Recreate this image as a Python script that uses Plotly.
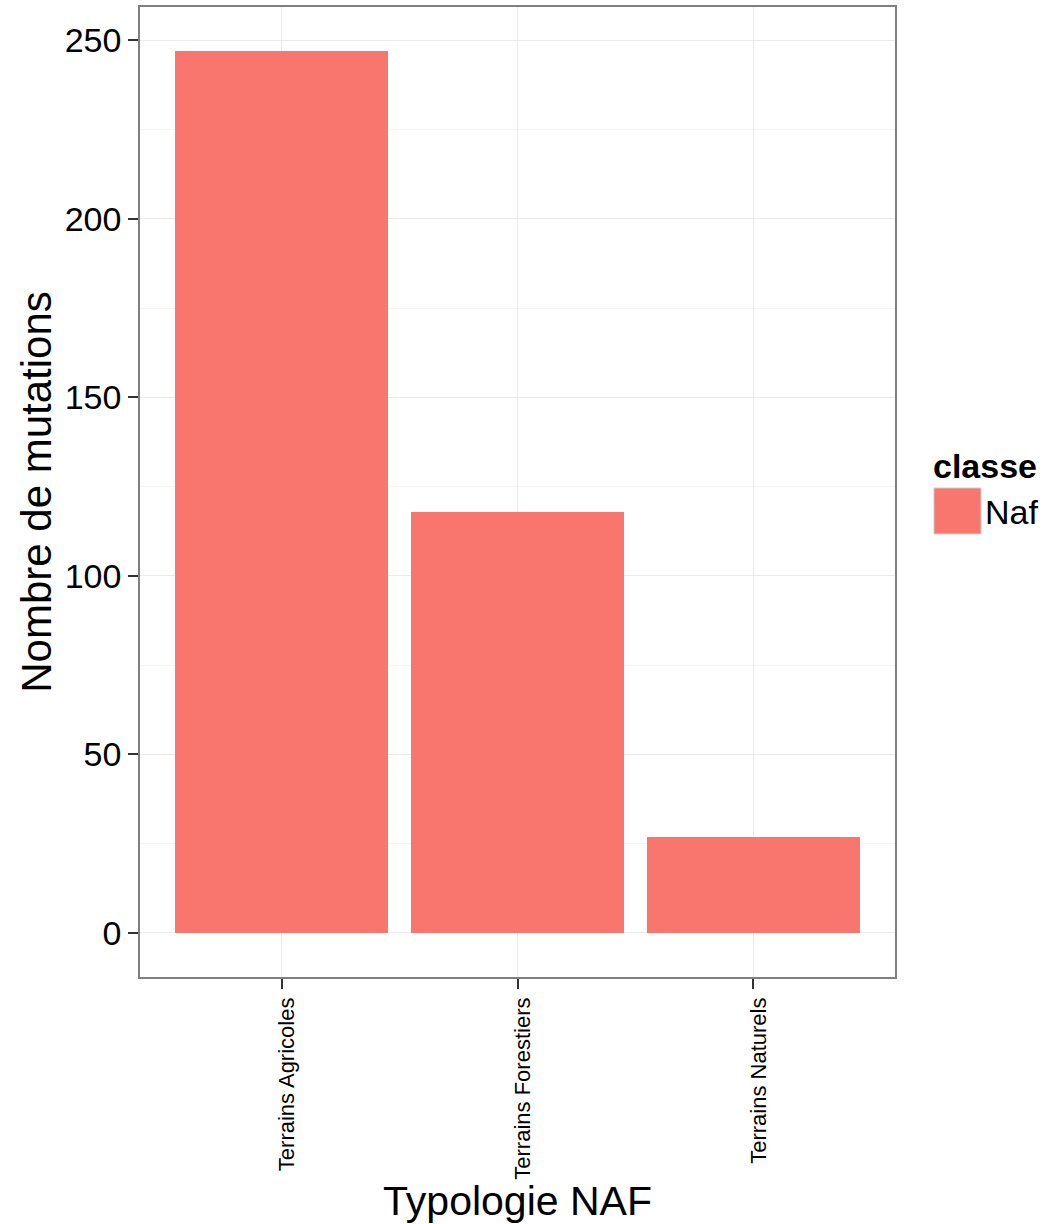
import plotly.graph_objects as go

categories = ["Terrains Agricoles", "Terrains Forestiers", "Terrains Naturels"]
values = [247, 118, 27]
series_name = "Naf"
legend_title = "classe"
y_ticks = [0, 50, 100, 150, 200, 250]
y_minor = [25, 75, 125, 175, 225]

bar_color = "#F8766D"
W, H = 1062, 1224
L, R, T, B = 140, 167, 5, 247

fig = go.Figure()
fig.add_trace(go.Bar(x=list(range(len(categories))), y=values, name=series_name,
                     marker=dict(color=bar_color, line=dict(width=0)),
                     width=0.9, showlegend=False))

vmax = max(values)
pad = 0.05 * vmax
grid_major = "#EBEBEB"
grid_minor = "#F5F5F5"

fig.update_layout(
    width=W, height=H,
    margin=dict(l=L, r=R, t=T, b=B),
    paper_bgcolor="white", plot_bgcolor="white",
    font=dict(family="Liberation Sans, Arial, sans-serif", color="black"),
    bargap=0,
    xaxis=dict(
        range=[-0.6, len(categories) - 0.4],
        tickmode="array", tickvals=list(range(len(categories))), ticktext=categories,
        tickangle=-90, tickfont=dict(size=22, color="black"), ticklabelshift=5,
        ticks="outside", ticklen=10, tickwidth=2, tickcolor="#333333",
        showgrid=True, gridcolor=grid_major, gridwidth=1,
        showline=True, linecolor="#7F7F7F", linewidth=1.5, mirror=True,
        zeroline=False,
        title=dict(text="Typologie NAF", font=dict(size=41, color="black"), standoff=4),
    ),
    yaxis=dict(
        range=[-pad, vmax + pad],
        tickmode="array", tickvals=y_ticks,
        tickfont=dict(size=34, color="black"),
        ticks="outside", ticklen=10, tickwidth=2, tickcolor="#333333",
        showgrid=True, gridcolor=grid_major, gridwidth=1,
        minor=dict(tickmode="array", tickvals=y_minor,
                   showgrid=True, gridcolor=grid_minor, gridwidth=1, ticks=""),
        showline=True, linecolor="#7F7F7F", linewidth=1.5, mirror=True,
        zeroline=False,
        title=dict(text="Nombre de mutations", font=dict(size=42, color="black"), standoff=0),
    ),
)

def px_x(p):
    return (p - L) / (W - L - R)

def px_y(p):
    return 1 - (p - T) / (H - T - B)

fig.add_annotation(xref="paper", yref="paper", x=px_x(931), y=px_y(465),
                   text="<b>" + legend_title + "</b>", showarrow=False,
                   xanchor="left", yanchor="middle", font=dict(size=34, color="black"))
fig.add_shape(type="rect", xref="paper", yref="paper",
              x0=px_x(934), x1=px_x(981), y0=px_y(533), y1=px_y(487),
              fillcolor=bar_color, line=dict(color="#CCCCCC", width=1))
fig.add_annotation(xref="paper", yref="paper", x=px_x(983), y=px_y(511),
                   text=series_name, showarrow=False,
                   xanchor="left", yanchor="middle", font=dict(size=34, color="black"))

fig.write_html("out.html", config={"displayModeBar": False},
               post_script="document.body.style.margin='0';")
